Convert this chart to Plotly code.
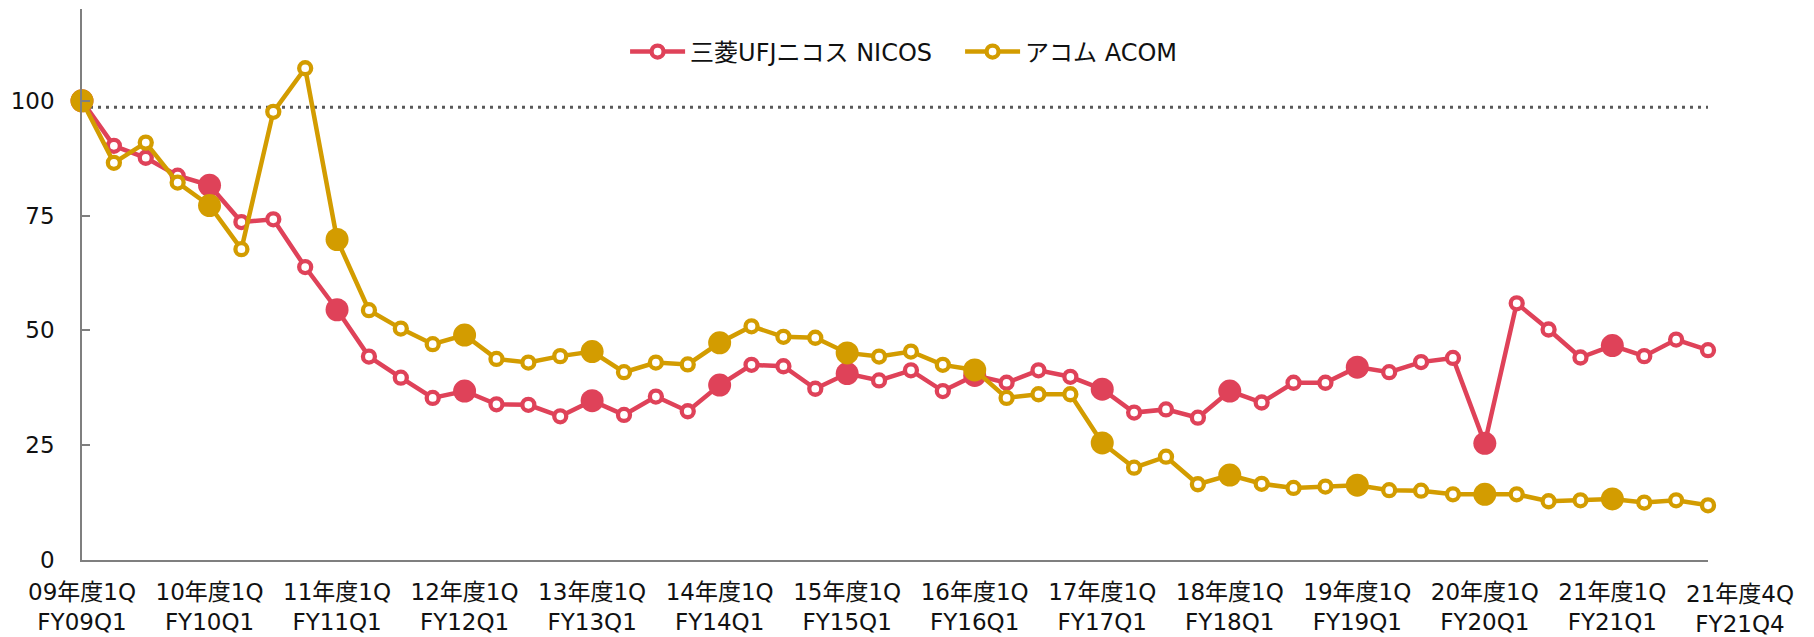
import plotly.graph_objects as go

# ---- data ----
quarters = [f"FY{y:02d}Q{q}" for y in range(9, 22) for q in range(1, 5)]
tick_cats = ["FY09Q1", "FY10Q1", "FY11Q1", "FY12Q1", "FY13Q1", "FY14Q1", "FY15Q1",
             "FY16Q1", "FY17Q1", "FY18Q1", "FY19Q1", "FY20Q1", "FY21Q1"]
tick_text = ["09年度1Q<br>FY09Q1", "10年度1Q<br>FY10Q1", "11年度1Q<br>FY11Q1",
             "12年度1Q<br>FY12Q1", "13年度1Q<br>FY13Q1", "14年度1Q<br>FY14Q1",
             "15年度1Q<br>FY15Q1", "16年度1Q<br>FY16Q1", "17年度1Q<br>FY17Q1",
             "18年度1Q<br>FY18Q1", "19年度1Q<br>FY19Q1", "20年度1Q<br>FY20Q1",
             "21年度1Q<br>FY21Q1"]
last_label = "21年度4Q<br>FY21Q4"

nicos = [100, 90.2, 87.6, 83.7, 81.6, 73.6, 74.2, 63.8, 54.5, 44.3, 39.7, 35.3,
         36.8, 33.9, 33.8, 31.3, 34.7, 31.6, 35.6, 32.4, 38.1, 42.5, 42.2, 37.3,
         40.6, 39.1, 41.3, 36.8, 40.2, 38.6, 41.3, 39.9, 37.2, 32.1, 32.8, 31.0,
         36.8, 34.3, 38.6, 38.6, 42.0, 40.9, 43.1, 44.0, 25.4, 55.9, 50.2, 44.1,
         46.7, 44.4, 48.0, 45.7]
acom = [100, 86.5, 90.9, 82.2, 77.2, 67.7, 97.6, 107.1, 69.8, 54.4, 50.4, 47.0,
        49.0, 43.8, 43.0, 44.4, 45.4, 40.9, 43.0, 42.6, 47.3, 50.9, 48.6, 48.4,
        45.1, 44.3, 45.4, 42.5, 41.4, 35.3, 36.1, 36.1, 25.5, 20.1, 22.5, 16.5,
        18.5, 16.6, 15.7, 16.0, 16.3, 15.2, 15.1, 14.3, 14.3, 14.3, 12.8, 13.0,
        13.3, 12.5, 13.0, 11.9]
ref_level = 98.6

series = [("三菱UFJニコス NICOS", nicos, "#DF4259"),
          ("アコム ACOM", acom, "#D39C00")]

FONT = "DejaVu Sans, Noto Sans CJK JP, sans-serif"
FS = 23

fig = go.Figure()

fig.add_shape(type="line", xref="x", yref="y", x0=0, x1=len(quarters) - 1,
              y0=ref_level, y1=ref_level,
              line=dict(color="#595959", width=3, dash="3px,5px"), layer="below")

for name, vals, col in series:
    fig.add_trace(go.Scatter(
        x=quarters, y=vals, mode="lines+markers", name=name,
        line=dict(color=col, width=4.5),
        marker=dict(size=12, color="white", line=dict(color=col, width=4.3)),
        cliponaxis=False))
    q1x = [q for q in quarters if q.endswith("Q1")]
    q1y = [v for q, v in zip(quarters, vals) if q.endswith("Q1")]
    fig.add_trace(go.Scatter(
        x=q1x, y=q1y, mode="markers", showlegend=False,
        marker=dict(size=23, color=col, line=dict(width=0)),
        cliponaxis=False, hoverinfo="skip"))

fig.add_annotation(x=(len(quarters)) / (len(quarters) - 1), y=0,
                   xref="paper", yref="paper", xanchor="center",
                   text=last_label, showarrow=False, yanchor="top",
                   yshift=-19, font=dict(family=FONT, size=FS, color="#111"))

fig.update_layout(
    width=1814, height=637,
    margin=dict(l=82, r=106, t=9, b=77, autoexpand=False),
    paper_bgcolor="white", plot_bgcolor="white",
    font=dict(family=FONT, size=FS, color="#111"),
    showlegend=True,
    legend=dict(orientation="h", x=0.334, xanchor="left", y=0.922,
                yanchor="middle", font=dict(size=24), bgcolor="rgba(0,0,0,0)",
                itemwidth=55, entrywidth=265),
    xaxis=dict(type="category", categoryorder="array", categoryarray=quarters,
               range=[0, len(quarters) - 1], showgrid=False, zeroline=False,
               showline=True, linecolor="#7f7f7f", linewidth=1.5,
               tickmode="array", tickvals=tick_cats, ticktext=tick_text,
               ticks="", ticklabelstandoff=11, automargin=False),
    yaxis=dict(range=[0, 120], showgrid=False, zeroline=False,
               showline=True, linecolor="#7f7f7f", linewidth=1.5,
               tickmode="array", tickvals=[0, 25, 50, 75, 100],
               ticks="inside", ticklen=8, tickcolor="#7f7f7f", tickwidth=1.5,
               ticklabelstandoff=21, automargin=False),
)

fig.write_html("out.html",
               config={"displayModeBar": False},
               post_script="document.body.style.margin='0';"
                           "document.body.style.overflow='hidden';")
